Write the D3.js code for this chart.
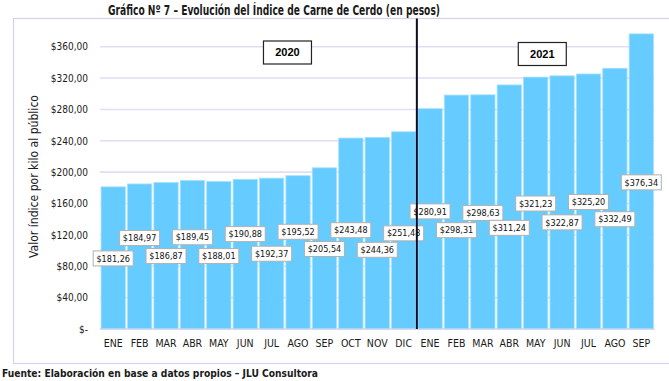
<!DOCTYPE html>
<html>
<head>
<meta charset="utf-8">
<script src="https://cdn.jsdelivr.net/npm/d3@7"></script>
<style>
  body { margin: 0; background: #fff; }
  svg { display: block; font-family: "DejaVu Sans Condensed", "Liberation Sans", sans-serif; }
</style>
</head>
<body>
<div id="root"></div>
<script>
var months = ["ENE", "FEB", "MAR", "ABR", "MAY", "JUN", "JUL", "AGO", "SEP", "OCT", "NOV", "DIC",
              "ENE", "FEB", "MAR", "ABR", "MAY", "JUN", "JUL", "AGO", "SEP"];
var years = ["2020", "2020", "2020", "2020", "2020", "2020", "2020", "2020", "2020", "2020", "2020", "2020",
             "2021", "2021", "2021", "2021", "2021", "2021", "2021", "2021", "2021"];
var values = [181.26, 184.97, 186.87, 189.45, 188.01, 190.88, 192.37, 195.52, 205.54, 243.48, 244.36, 251.48,
              280.91, 298.31, 298.63, 311.24, 321.23, 322.87, 325.20, 332.49, 376.34];
var yTicks = [0, 40, 80, 120, 160, 200, 240, 280, 320, 360];

var width = 669,
    height = 381,
    margin = { top: 34, right: 15, bottom: 52, left: 100 };

var data = values.map(function (v, i) {
    return { key: i, month: months[i], year: years[i], value: v };
});

var svg = d3.select("#root")
    .append("svg")
    .attr("width", width)
    .attr("height", height);

// marco exterior del gráfico
svg.append("rect")
    .attr("x", 13.5).attr("y", 18.5)
    .attr("width", 670).attr("height", 345)
    .style("fill", "none")
    .style("stroke", "#d6d2ee")
    .style("stroke-width", 1.2);

svg.append("text")
    .attr("x", 108).attr("y", 15)
    .attr("textLength", 332)
    .attr("lengthAdjust", "spacingAndGlyphs")
    .style("font-size", "14px")
    .style("font-weight", "bold")
    .style("fill", "#1a1a1a")
    .text("Gráfico Nº 7 – Evolución del Índice de Carne de Cerdo (en pesos)");

var x = d3.scaleBand()
    .domain(data.map(function (d) { return d.key; }))
    .range([margin.left, 654.5])
    .paddingInner(0.08)
    .paddingOuter(0.04);

var y = d3.scaleLinear()
    .domain([0, 360])
    .range([329, 46.7]);

var g = svg.append("g");

// líneas de grilla
g.selectAll(".grid")
    .data(yTicks)
    .enter()
    .append("line")
    .attr("x1", margin.left)
    .attr("x2", 654.5)
    .attr("y1", function (d) { return y(d); })
    .attr("y2", function (d) { return y(d); })
    .style("stroke", "#e0ddf5")
    .style("stroke-width", 1.6);

// eje y
var yAxis = d3.axisLeft(y)
    .tickValues(yTicks)
    .tickSize(0)
    .tickPadding(12)
    .tickFormat(function (d) {
        return d === 0 ? "$-" : "$" + d3.format(".2f")(d).replace(".", ",");
    });
var yg = svg.append("g")
    .attr("transform", "translate(" + margin.left + ",0)")
    .call(yAxis);
yg.select(".domain").remove();
yg.selectAll("text")
    .style("font-family", "'DejaVu Sans Condensed', sans-serif")
    .style("font-size", "10px")
    .style("fill", "#1a1a1a");

// barras
g.selectAll("rect.bar")
    .data(data)
    .enter()
    .append("rect")
    .attr("class", "bar")
    .attr("x", function (d) { return x(d.key); })
    .attr("y", function (d) { return y(d.value); })
    .attr("width", x.bandwidth())
    .attr("height", function (d) { return y(0) - y(d.value); })
    .style("fill", "#66ccff")
    .style("stroke", "#a5e0ff")
    .style("stroke-width", 0.8);

// línea base
g.append("line")
    .attr("x1", margin.left).attr("x2", 654.5)
    .attr("y1", y(0)).attr("y2", y(0))
    .style("stroke", "#d6d2ee")
    .style("stroke-width", 1.2);

// eje x
var xAxis = d3.axisBottom(x)
    .tickSize(0)
    .tickPadding(11)
    .tickFormat(function (k) { return months[k]; });
var xg = svg.append("g")
    .attr("transform", "translate(0," + y(0) + ")")
    .call(xAxis);
xg.select(".domain").remove();
xg.selectAll("text")
    .style("font-family", "'DejaVu Sans Condensed', sans-serif")
    .style("font-size", "10.5px")
    .style("fill", "#1a1a1a");

// separador de años
var split = (x(12) + x(11) + x.bandwidth()) / 2;
svg.append("line")
    .attr("x1", split).attr("x2", split)
    .attr("y1", 18.5).attr("y2", y(0))
    .style("stroke", "#0d0d26")
    .style("stroke-width", 2);

// cajas de año
var yearBoxes = [{ year: "2020", at: 7.1 }, { year: "2021", at: 16.75 }];
var yb = svg.selectAll(".yearbox")
    .data(yearBoxes)
    .enter()
    .append("g")
    .attr("transform", function (d) {
        return "translate(" + (margin.left + d.at * x.step()) + "," + (d.year === "2020" ? 52.5 : 54) + ")";
    });
yb.append("rect")
    .attr("x", -24).attr("y", -11.5)
    .attr("width", 48).attr("height", 23)
    .style("fill", "#fff")
    .style("stroke", "#222")
    .style("stroke-width", 1.2);
yb.append("text")
    .attr("text-anchor", "middle")
    .attr("dy", "0.36em")
    .style("font-family", "'Liberation Sans', Arial, sans-serif")
    .style("font-size", "11px")
    .style("font-weight", "bold")
    .text(function (d) { return d.year; });

// etiquetas de valores (alturas escalonadas como en el original)
var labelAt = [90, 116, 93, 117, 93, 121, 96, 124, 102, 126, 101, 122,
               150, 126, 148, 129, 160, 136, 162, 140, 187];
var lab = g.selectAll(".lab")
    .data(data)
    .enter()
    .append("g")
    .attr("transform", function (d, i) {
        return "translate(" + (x(d.key) + x.bandwidth() / 2) + "," + y(labelAt[i]) + ")";
    });
lab.append("rect")
    .attr("x", -20).attr("y", -7.5)
    .attr("width", 40).attr("height", 15)
    .style("fill", "#fff")
    .style("stroke", "#b0b0b0")
    .style("stroke-width", 1);
lab.append("text")
    .attr("text-anchor", "middle")
    .attr("dy", "0.35em")
    .style("font-size", "9px")
    .style("fill", "#111")
    .text(function (d) { return "$" + d3.format(".2f")(d.value).replace(".", ","); });

// título eje y
svg.append("text")
    .attr("transform", "translate(38,176.5) rotate(-90)")
    .attr("text-anchor", "middle")
    .attr("textLength", 163)
    .attr("lengthAdjust", "spacingAndGlyphs")
    .style("font-size", "12.5px")
    .style("fill", "#1a1a1a")
    .text("Valor índice por kilo al público");

svg.append("text")
    .attr("x", 2).attr("y", 377)
    .attr("textLength", 316)
    .attr("lengthAdjust", "spacingAndGlyphs")
    .style("font-size", "11px")
    .style("font-weight", "bold")
    .style("fill", "#1a1a1a")
    .text("Fuente: Elaboración en base a datos propios – JLU Consultora");
</script>
</body>
</html>
